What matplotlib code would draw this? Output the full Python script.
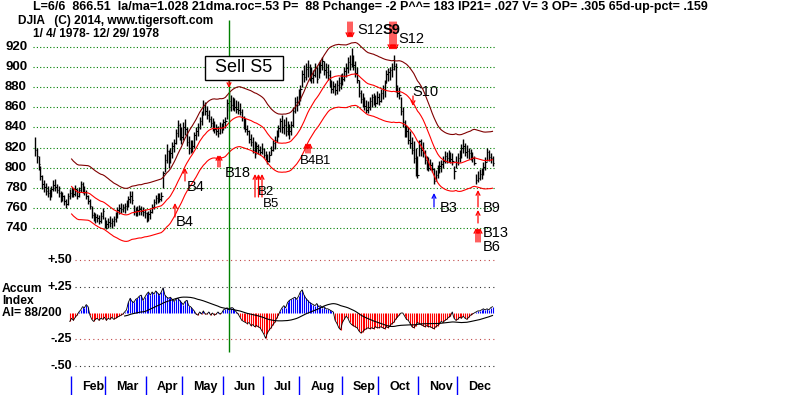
import matplotlib
matplotlib.use('Agg')
import matplotlib.pyplot as plt
from matplotlib.patches import Rectangle
import numpy as np
import pandas as pd

plt.rcParams['font.family'] = ['Liberation Sans', 'DejaVu Sans']

# ---------------- data (daily DJIA 1978, trading-day index 0..250) ----------------
hi = [830,820,812,802,793,788,785,782,779,782,
      788,789,784,782,777,776,773,769,775,779,
      781,780,783,779,781,787,786,782,778,773,
      769,762,756,755,754,753,756,760,751,748,
      750,752,750,752,756,761,764,765,764,765,
      768,772,777,777,763,761,762,763,762,761,
      759,756,757,759,764,769,773,775,775,776,
      797,814,824,818,820,826,829,838,847,844,
      840,845,848,840,831,828,828,835,840,844,
      850,856,867,865,861,857,851,849,846,843,
      841,845,844,848,850,868,875,872,870,869,
      867,866,864,858,851,849,842,837,833,830,
      827,826,824,822,825,820,817,814,817,822,
      828,831,837,842,849,852,848,850,846,843,
      846,860,870,871,878,882,897,902,904,907,
      903,900,897,904,900,905,907,910,906,904,
      903,897,887,886,884,887,890,893,894,900,
      904,910,912,919,912,906,900,887,877,874,
      870,867,866,870,873,874,872,876,874,878,
      882,887,897,899,900,904,912,904,882,880,
      870,860,847,842,840,836,830,827,820,812,
      828,829,826,818,812,811,809,806,800,798,
      803,807,808,812,817,816,818,816,815,802,
      812,815,818,824,829,825,823,820,819,816,
      812,794,797,799,800,806,811,820,818,815,812]
lo = [812,805,798,788,779,776,773,771,768,771,
      777,777,775,771,766,767,763,760,763,769,
      771,771,772,769,771,776,775,773,769,764,
      759,750,747,745,746,744,745,749,740,739,
      740,741,740,742,746,750,754,755,756,755,
      758,761,765,764,753,752,752,753,753,752,
      750,746,747,749,755,759,764,765,766,767,
      780,796,805,800,805,810,816,824,830,828,
      824,828,832,822,814,815,816,820,828,831,
      838,842,852,852,848,845,840,836,834,832,
      830,833,834,837,839,848,856,856,857,856,
      854,853,852,846,838,835,832,825,822,815,
      810,815,814,813,814,810,808,804,806,813,
      817,819,826,830,835,834,833,831,832,829,
      832,840,854,856,862,866,880,885,887,890,
      886,884,884,890,884,889,894,897,892,889,
      887,880,874,874,872,873,876,878,882,886,
      890,894,897,900,897,890,884,870,864,860,
      857,854,854,857,860,862,860,863,862,865,
      868,870,884,886,887,890,897,875,870,868,
      852,840,830,830,824,820,814,805,792,790,
      812,812,811,804,798,797,798,796,784,787,
      790,795,796,800,805,805,806,805,803,789,
      800,803,806,810,815,812,810,809,808,806,
      803,784,786,788,789,793,798,807,807,805,802]
cl = [818,812,804,792,784,781,777,775,772,779,
      783,781,778,775,770,772,767,764,772,775,
      776,774,779,772,778,784,778,776,772,767,
      762,753,750,751,750,747,752,757,743,744,
      746,745,747,749,753,758,760,759,761,762,
      765,769,772,768,757,756,758,759,757,756,
      755,750,754,756,761,766,770,772,769,772,
      795,808,817,806,815,822,825,834,842,833,
      830,840,838,826,820,823,822,832,836,840,
      846,852,862,856,852,848,844,840,838,836,
      834,840,838,845,846,864,866,862,864,860,
      858,857,855,850,842,838,836,829,826,818,
      814,822,818,816,819,813,811,807,813,818,
      825,828,834,839,846,840,842,836,840,836,
      842,856,865,862,875,878,893,890,898,900,
      893,889,892,899,888,900,902,906,897,895,
      892,884,878,881,877,882,884,886,888,896,
      899,905,903,907,902,894,887,874,868,864,
      861,857,860,866,870,868,864,870,866,874,
      878,884,893,895,897,898,901,878,874,872,
      856,845,834,836,828,825,818,810,795,793,
      827,818,815,808,802,800,803,799,787,793,
      797,802,804,807,812,810,813,809,807,797,
      806,810,814,820,822,816,817,815,813,810,
      805,788,790,794,796,801,806,816,811,810,805]

ai_start = 19
ai = [-0.08,-0.05,-0.07,-0.04,-0.02,0.01,0.03,0.06,0.05,0.08,
      0.06,-0.02,-0.06,-0.08,-0.06,-0.05,-0.07,-0.05,-0.06,-0.04,
      -0.07,-0.05,-0.06,-0.04,-0.06,-0.05,-0.04,-0.03,-0.02,-0.01,
      0.01,0.03,0.10,0.14,0.11,0.10,0.13,0.14,0.16,0.17,
      0.12,0.15,0.18,0.20,0.17,0.20,0.18,0.21,0.19,0.17,
      0.20,0.24,0.17,0.15,0.14,0.15,0.13,0.11,0.13,0.14,
      0.12,0.10,0.08,0.11,0.12,0.07,0.06,0.04,0.02,-0.01,
      -0.02,0.01,-0.01,0.02,-0.01,-0.01,0.01,-0.02,0.00,-0.02,
      -0.01,0.01,-0.01,0.00,0.03,0.04,0.05,0.03,0.05,0.05,
      0.03,0.01,-0.01,-0.04,-0.07,-0.08,-0.09,-0.10,-0.09,-0.12,
      -0.11,-0.13,-0.12,-0.13,-0.14,-0.17,-0.20,-0.24,-0.19,-0.16,
      -0.14,-0.11,-0.09,-0.05,-0.02,0.02,0.05,0.07,0.05,0.10,
      0.12,0.13,0.14,0.15,0.13,0.16,0.20,0.22,0.17,0.14,
      0.12,0.10,0.09,0.08,0.07,0.09,0.06,0.07,0.05,0.06,
      0.04,0.04,0.03,0.02,0.01,-0.07,-0.10,-0.14,-0.16,-0.09,
      -0.06,-0.03,-0.05,-0.09,-0.11,-0.12,-0.13,-0.14,-0.17,-0.19,
      -0.18,-0.16,-0.15,-0.14,-0.15,-0.14,-0.15,-0.13,-0.14,-0.14,
      -0.13,-0.14,-0.15,-0.13,-0.14,-0.12,-0.10,-0.09,-0.06,-0.04,
      -0.02,0.00,0.00,-0.03,-0.06,-0.07,-0.10,-0.13,-0.14,-0.12,
      -0.09,-0.10,-0.11,-0.12,-0.13,-0.12,-0.13,-0.13,-0.14,-0.15,
      -0.13,-0.12,-0.10,-0.08,-0.09,-0.07,-0.06,-0.04,-0.03,0.01,
      -0.05,-0.07,-0.06,-0.04,-0.05,-0.03,-0.05,-0.06,-0.04,-0.02,
      -0.01,0.00,0.01,0.02,0.02,0.03,0.04,0.03,0.04,0.03,
      0.05,0.06]

price_ticks = [740, 760, 780, 800, 820, 840, 860, 880, 900, 920]
ai_ticks = [0.50, 0.25, -0.25, -0.50]
ai_tick_labels = ['+.50', '+.25', '-.25', '-.50']
month_labels = ['Feb', 'Mar', 'Apr', 'May', 'Jun', 'Jul', 'Aug', 'Sep', 'Oct', 'Nov', 'Dec']
month_start = [20, 39, 61, 81, 103, 125, 145, 168, 188, 210, 231]

header1 = ("L=6/6  866.51  la/ma=1.028 21dma.roc=.53 P=  88 Pchange= -2 "
           "P^^= 183 IP21= .027 V= 3 OP= .305 65d-up-pct= .159")
header2 = "DJIA   (C) 2014, www.tigersoft.com"
header3 = "1/ 4/ 1978- 12/ 29/ 1978"

# ---------------- layout helpers (pixel -> data) ----------------
W, H = 800, 395
X0PX, DX = 35.0, 1.83
def xi(px): return (px - X0PX) / DX
PY920, PPP = 47.0, 181.0 / 180.0
def pv(py): return 920 - (py - PY920) / PPP
def vy(v): return PY920 + (920 - v) * PPP
AI0, AIS = 313.0, 105.2
def pa(py): return (AI0 - py) / AIS
def ay(a): return AI0 - a * AIS

fig = plt.figure(figsize=(W / 100, H / 100), dpi=100)
fig.patch.set_facecolor('white')
ax = fig.add_axes([0, 0, 1, 1])
ax.set_xlim(xi(0), xi(W)); ax.set_ylim(pv(H), pv(0)); ax.axis('off')
ax2 = fig.add_axes([0, 0, 1, 1])
ax2.set_xlim(xi(0), xi(W)); ax2.set_ylim(pa(H), pa(0)); ax2.axis('off')
ax2.patch.set_alpha(0)

def ftext(xp, yp, s, **kw):
    kw.setdefault('va', 'center')
    return fig.text(xp / W, 1 - yp / H, s, **kw)

# grid lines (price)
ax.hlines(price_ticks, xi(33), xi(495), colors='#008000', linestyles=(0, (1, 2)), lw=0.8)
for v in price_ticks:
    ftext(5, vy(v), str(v), fontsize=9.5, weight='bold')

# price bars
days = np.arange(len(cl))
ax.vlines(days, lo, hi, colors='black', lw=1.0)
ax.hlines(cl, days, days + 0.8, colors='black', lw=0.8)

# bands: 21-day MA +/- 3.5%
ma = pd.Series(cl, dtype=float).rolling(21).mean()
ax.plot(days, ma * 1.035, color='#800000', lw=0.8)
ax.plot(days, ma, color='#ff0000', lw=0.8)
ax.plot(days, ma * 0.965, color='#ff0000', lw=0.8)

# sell line
ax.vlines(xi(229), pv(352), pv(20), colors='#008000', lw=1.0)

# accumulation index
ai_arr = np.array(ai)
ai_days = np.arange(ai_start, ai_start + len(ai))
ax2.hlines([0.50, -0.25], xi(75), xi(495), colors='#c04848', linestyles=(0, (1, 3)), lw=0.8)
ax2.hlines([0.25, -0.50], xi(75), xi(495), colors='#303030', linestyles=(0, (1, 3)), lw=0.8)
cols = np.where(ai_arr > 0, '#0000ff', '#ff0000')
ax2.vlines(ai_days, 0, ai_arr, colors=cols, lw=0.8)
ax2.plot(ai_days, ai_arr, color='black', lw=0.6)
ai_ma = pd.Series(ai_arr).rolling(31).mean()
ax2.plot(ai_days, ai_ma, color='black', lw=0.8)
for a, lab in zip(ai_ticks, ai_tick_labels):
    ftext(72, ay(a), lab, fontsize=9, weight='bold', ha='right')
ftext(2, 289, "Accum", fontsize=8.7, weight='bold')
ftext(2, 301, "Index", fontsize=8.7, weight='bold')
ftext(2, 313, "AI= 88/200", fontsize=8.7, weight='bold')

# months
ms = np.array(month_start) - 0.5
ax2.vlines(ms, pa(395), pa(376), colors='#0000ff', lw=1.0)
for m, lab in zip(ms, month_labels):
    ax2.text(m + 11 / DX, pa(387), lab, ha='left', va='center', fontsize=9, weight='bold')

# header
ftext(33, 7, header1, fontsize=9, weight='bold')
ftext(18, 21, header2, fontsize=8.6, weight='bold')
ftext(33, 34, header3, fontsize=8.6, weight='bold')

# signals
def arr(xp, y_from, y_to, color='#ff0000'):
    ax.annotate('', xy=(xi(xp), pv(y_to)), xytext=(xi(xp), pv(y_from)),
                arrowprops=dict(arrowstyle='->', color=color, lw=0.9,
                                shrinkA=0, shrinkB=0, mutation_scale=7))

fig.patches.append(Rectangle((205 / W, 1 - 80 / H), 78 / W, 24 / H, transform=fig.transFigure,
                             fc='white', ec='black', lw=1, zorder=3))
ftext(244, 68, "Sell S5", fontsize=13, ha='center', zorder=4)
arr(229, 81, 88)
SF = 10.5
arr(175, 217, 203); ftext(176, 222, "B4", fontsize=SF)
arr(185, 181, 168); ftext(187, 187, "B4", fontsize=SF)
arr(218, 167, 155); arr(220, 167, 155); ftext(225, 173, "B18", fontsize=SF)
for xp in (255, 258.5, 262):
    arr(xp, 197, 174)
ftext(258, 192, "B2", fontsize=9.5); ftext(263, 204, "B5", fontsize=9.5)
for xp in (306, 308, 310):
    arr(xp, 153, 143)
ftext(300, 161, "B4", fontsize=9.5); ftext(315, 161, "B1", fontsize=9.5)
for xp in (348, 350, 352):
    arr(xp, 22, 38)
ftext(357, 30, "S12", fontsize=SF)
for xp in (390, 392, 394, 396):
    arr(xp, 22, 50)
ftext(383, 30, "S9", fontsize=SF, weight='bold')
ftext(398, 39, "S12", fontsize=SF)
arr(413, 96, 106); ftext(412, 92, "S10", fontsize=SF)
arr(434, 207, 193, color='#0000ff'); ftext(440, 208, "B3", fontsize=SF)
arr(478, 207, 190); ftext(483, 208, "B9", fontsize=SF)
arr(478, 223, 210)
for xp in (476, 478, 480):
    arr(xp, 242, 228)
ftext(483, 233, "B13", fontsize=SF); ftext(483, 247, "B6", fontsize=SF)

fig.savefig('out.png', dpi=100, facecolor='white')
